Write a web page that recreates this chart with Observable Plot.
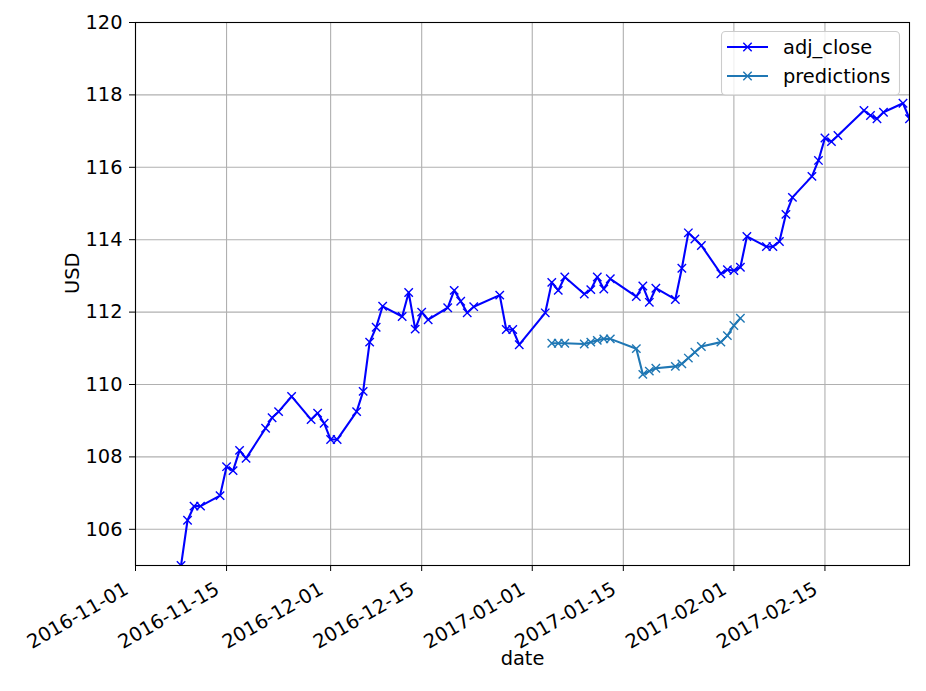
<!DOCTYPE html>
<html>
<head>
<meta charset="utf-8">
<script src="https://cdn.jsdelivr.net/npm/d3@7"></script>
<script src="https://cdn.jsdelivr.net/npm/@observablehq/plot@0.6"></script>
<style>
  html, body { margin: 0; padding: 0; background: white; }
  #chart { position: relative; width: 926px; height: 691px; }
</style>
</head>
<body>
<div id="chart"></div>
<script>
const adjDates = ["2016-11-08","2016-11-09","2016-11-10","2016-11-11","2016-11-14","2016-11-15","2016-11-16","2016-11-17","2016-11-18",
  "2016-11-21","2016-11-22","2016-11-23","2016-11-25","2016-11-28","2016-11-29","2016-11-30","2016-12-01","2016-12-02",
  "2016-12-05","2016-12-06","2016-12-07","2016-12-08","2016-12-09","2016-12-12","2016-12-13","2016-12-14","2016-12-15","2016-12-16",
  "2016-12-19","2016-12-20","2016-12-21","2016-12-22","2016-12-23","2016-12-27","2016-12-28","2016-12-29","2016-12-30",
  "2017-01-03","2017-01-04","2017-01-05","2017-01-06","2017-01-09","2017-01-10","2017-01-11","2017-01-12","2017-01-13",
  "2017-01-17","2017-01-18","2017-01-19","2017-01-20","2017-01-23","2017-01-24","2017-01-25","2017-01-26","2017-01-27",
  "2017-01-30","2017-01-31","2017-02-01","2017-02-02","2017-02-03","2017-02-06","2017-02-07","2017-02-08","2017-02-09","2017-02-10",
  "2017-02-13","2017-02-14","2017-02-15","2017-02-16","2017-02-17","2017-02-21","2017-02-22","2017-02-23","2017-02-24",
  "2017-02-27","2017-02-28"];
const adjClose = [105.0,106.25,106.64,106.64,106.93,107.73,107.62,108.18,107.96,
  108.79,109.08,109.25,109.67,109.03,109.21,108.93,108.48,108.48,
  109.25,109.81,111.17,111.58,112.16,111.88,112.54,111.53,112.00,111.79,
  112.12,112.60,112.30,111.98,112.15,112.47,111.52,111.52,111.10,
  111.98,112.82,112.60,112.97,112.50,112.62,112.97,112.64,112.92,
  112.43,112.72,112.27,112.66,112.35,113.21,114.19,114.02,113.84,
  113.06,113.17,113.15,113.24,114.09,113.81,113.81,113.95,114.70,115.17,
  115.75,116.19,116.81,116.71,116.88,117.57,117.43,117.34,117.52,
  117.77,117.34];

const predDates = ["2017-01-04","2017-01-05","2017-01-06","2017-01-09","2017-01-10","2017-01-11","2017-01-12","2017-01-13",
  "2017-01-17","2017-01-18","2017-01-19","2017-01-20","2017-01-23","2017-01-24","2017-01-25","2017-01-26","2017-01-27",
  "2017-01-30","2017-01-31","2017-02-01","2017-02-02"];
const predictions = [111.14,111.14,111.14,111.12,111.17,111.22,111.26,111.26,
  110.99,110.28,110.37,110.45,110.50,110.57,110.73,110.89,111.05,
  111.17,111.35,111.63,111.83];

const xTickLabels = ["2016-11-01","2016-11-15","2016-12-01","2016-12-15","2017-01-01","2017-01-15","2017-02-01","2017-02-15"];
const yTicks = [106,108,110,112,114,116,118,120];
const xDomain = ["2016-11-01","2017-02-28"];
const seriesNames = ["adj_close","predictions"];
const seriesColors = ["blue","#1f77b4"];

const parse = d3.utcParse("%Y-%m-%d");
const adj = adjDates.map((d, i) => ({date: parse(d), value: adjClose[i]}));
const pred = predDates.map((d, i) => ({date: parse(d), value: predictions[i]}));
const xTicks = xTickLabels.map(parse);

const font = "DejaVu Sans";
const fs = 19.4;

const chart = Plot.plot({
  width: 926,
  height: 691,
  marginLeft: 135,
  marginRight: 17,
  marginTop: 22,
  marginBottom: 126,
  style: {fontFamily: font, fontSize: fs + "px", background: "white", color: "black"},
  x: {type: "utc", domain: xDomain.map(parse)},
  y: {domain: [105, 120]},
  marks: [
    Plot.gridX(xTicks, {stroke: "#b0b0b0", strokeOpacity: 1, strokeWidth: 1.1}),
    Plot.gridY(yTicks, {stroke: "#b0b0b0", strokeOpacity: 1, strokeWidth: 1.1}),
    Plot.line(adj, {x: "date", y: "value", stroke: seriesColors[0], strokeWidth: 2.1, clip: "frame"}),
    Plot.dot(adj, {x: "date", y: "value", symbol: "times", r: 3.9, stroke: seriesColors[0], strokeWidth: 1.4, clip: "frame"}),
    Plot.line(pred, {x: "date", y: "value", stroke: seriesColors[1], strokeWidth: 2.1, clip: "frame"}),
    Plot.dot(pred, {x: "date", y: "value", symbol: "times", r: 3.9, stroke: seriesColors[1], strokeWidth: 1.4, clip: "frame"}),
    Plot.frame({stroke: "black", strokeWidth: 1.1}),
    Plot.axisX(xTicks, {tickSize: 6, tickFormat: () => "", label: null}),
    Plot.axisX(xTicks, {tickFormat: d3.utcFormat("%Y-%m-%d"), tickRotate: -30, tickSize: 0, tickPadding: 11,
      textAnchor: "end", fontSize: fs, label: null, dx: -9, dy: 11}),
    Plot.axisY(yTicks, {tickSize: 6, tickPadding: 7, fontSize: fs, label: null}),
    Plot.text(["date"], {frameAnchor: "bottom", dy: 99, text: d => d, fontSize: fs, fill: "black"}),
    Plot.text(["USD"], {frameAnchor: "left", dx: -63, rotate: -90, text: d => d, fontSize: fs, fill: "black"})
  ]
});

document.getElementById("chart").appendChild(chart);

// Legend (upper right, inside the frame)
const svg = d3.select(chart);
const lg = svg.append("g").attr("font-family", font).attr("font-size", fs).attr("text-anchor", "start");
lg.append("rect").attr("x", 721.5).attr("y", 31.5).attr("width", 178).attr("height", 63.5)
  .attr("rx", 4).attr("fill", "white").attr("fill-opacity", 0.8).attr("stroke", "#cccccc").attr("stroke-width", 1.1);
const sym = d3.symbol(d3.symbolTimes, Math.PI * 3.9 * 3.9)();
seriesNames.forEach((name, i) => {
  const cy = 47 + i * 29;
  lg.append("line").attr("x1", 727).attr("x2", 768).attr("y1", cy).attr("y2", cy)
    .attr("stroke", seriesColors[i]).attr("stroke-width", 2.1);
  lg.append("path").attr("d", sym).attr("transform", `translate(747.5,${cy})`)
    .attr("fill", "none").attr("stroke", seriesColors[i]).attr("stroke-width", 1.4);
  lg.append("text").attr("x", 783).attr("y", cy).attr("dy", "0.35em").attr("fill", "black").text(name);
});
</script>
</body>
</html>
